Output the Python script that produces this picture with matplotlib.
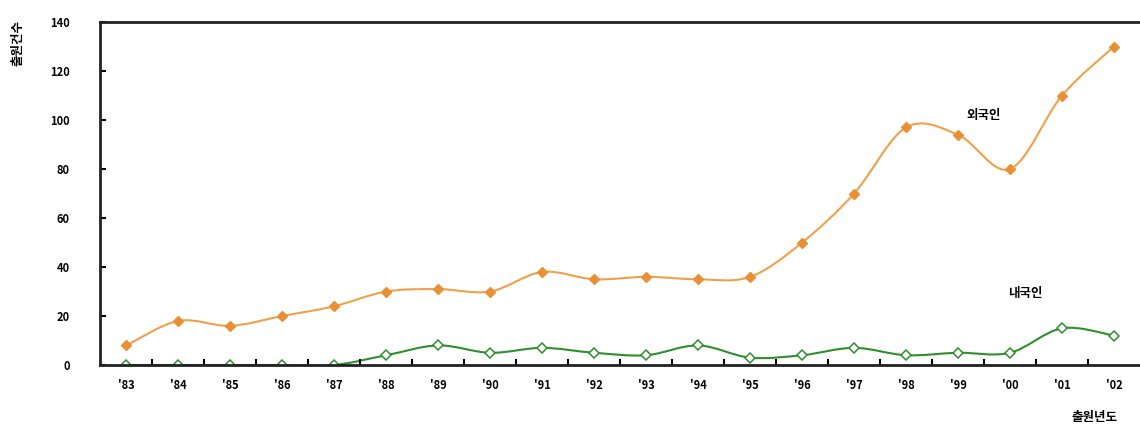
import numpy as np
import matplotlib
matplotlib.use('Agg')
import matplotlib.pyplot as plt
from matplotlib.path import Path
from matplotlib.patches import PathPatch

plt.rcParams['font.family'] = ['Noto Sans CJK KR', 'DejaVu Sans']

# 출원연도별 출원건수
years = ["'83", "'84", "'85", "'86", "'87", "'88", "'89", "'90", "'91", "'92",
         "'93", "'94", "'95", "'96", "'97", "'98", "'99", "'00", "'01", "'02"]
foreign = [8, 18, 16, 20, 24, 30, 31, 30, 38, 35, 36, 35, 36, 50, 70, 97, 94, 80, 110, 130]
domestic = [0, 0, 0, 0, 0, 4, 8, 5, 7, 5, 4, 8, 3, 4, 7, 4, 5, 5, 15, 12]


def smooth_path(xs, ys, tension=0.5):
    # Catmull-Rom 곡선을 3차 베지어 Path로 변환
    verts = [(xs[0], ys[0])]
    codes = [Path.MOVETO]
    n = len(xs)
    for i in range(n - 1):
        x0, y0 = xs[max(i - 1, 0)], ys[max(i - 1, 0)]
        x1, y1 = xs[i], ys[i]
        x2, y2 = xs[i + 1], ys[i + 1]
        x3, y3 = xs[min(i + 2, n - 1)], ys[min(i + 2, n - 1)]
        c1 = (x1 + (x2 - x0) * tension / 3, y1 + (y2 - y0) * tension / 3)
        c2 = (x2 - (x3 - x1) * tension / 3, y2 - (y3 - y1) * tension / 3)
        verts += [c1, c2, (x2, y2)]
        codes += [Path.CURVE4] * 3
    return Path(verts, codes)


fig = plt.figure(figsize=(11.4, 4.33), dpi=100)
ax = fig.add_axes([0.088, 0.157, 0.912, 0.792])

x = np.arange(len(years))

ax.add_patch(PathPatch(smooth_path(x, foreign), fill=False, edgecolor='#EFA04A', lw=1.5))
ax.plot(x, foreign, ls='none', marker='D', ms=5, color='#E89035', mec='#E89035')

ax.add_patch(PathPatch(smooth_path(x, domestic), fill=False, edgecolor='#2F8F2F', lw=1.5))
ax.plot(x, domestic, ls='none', marker='D', ms=5.5, mfc='white', mec='#2F8F2F', mew=1.1)

ax.set_xlim(-0.5, len(years) - 0.5)
ax.set_ylim(0, 140)
ax.set_yticks(range(0, 141, 20))
ax.set_xticks(x)
ax.set_xticklabels(years)
ax.set_xticks(x[:-1] + 0.5, minor=True)

for side in ['left', 'bottom', 'top']:
    ax.spines[side].set_linewidth(2)
    ax.spines[side].set_color('#222222')
ax.spines['right'].set_visible(False)

ax.tick_params(axis='y', direction='in', length=4, width=1.5, pad=22,
               labelsize=8)
ax.tick_params(axis='x', which='major', length=0, pad=10, labelsize=8)
ax.tick_params(axis='x', which='minor', direction='in', length=4, width=1.5)
for lab in ax.get_xticklabels() + ax.get_yticklabels():
    lab.set_fontweight('bold')

ax.text(16.5, 102, '외국인', fontsize=9, fontweight='bold', ha='center', va='center')
ax.text(17.3, 29, '내국인', fontsize=9, fontweight='bold', ha='center', va='center')

fig.text(0.96, 0.035, '출원년도', fontsize=9, fontweight='bold', ha='center', va='center')
fig.text(0.016, 0.90, '출원건수', fontsize=9, fontweight='bold', ha='center', va='center',
         rotation=90)

fig.savefig('out.png', dpi=100)
